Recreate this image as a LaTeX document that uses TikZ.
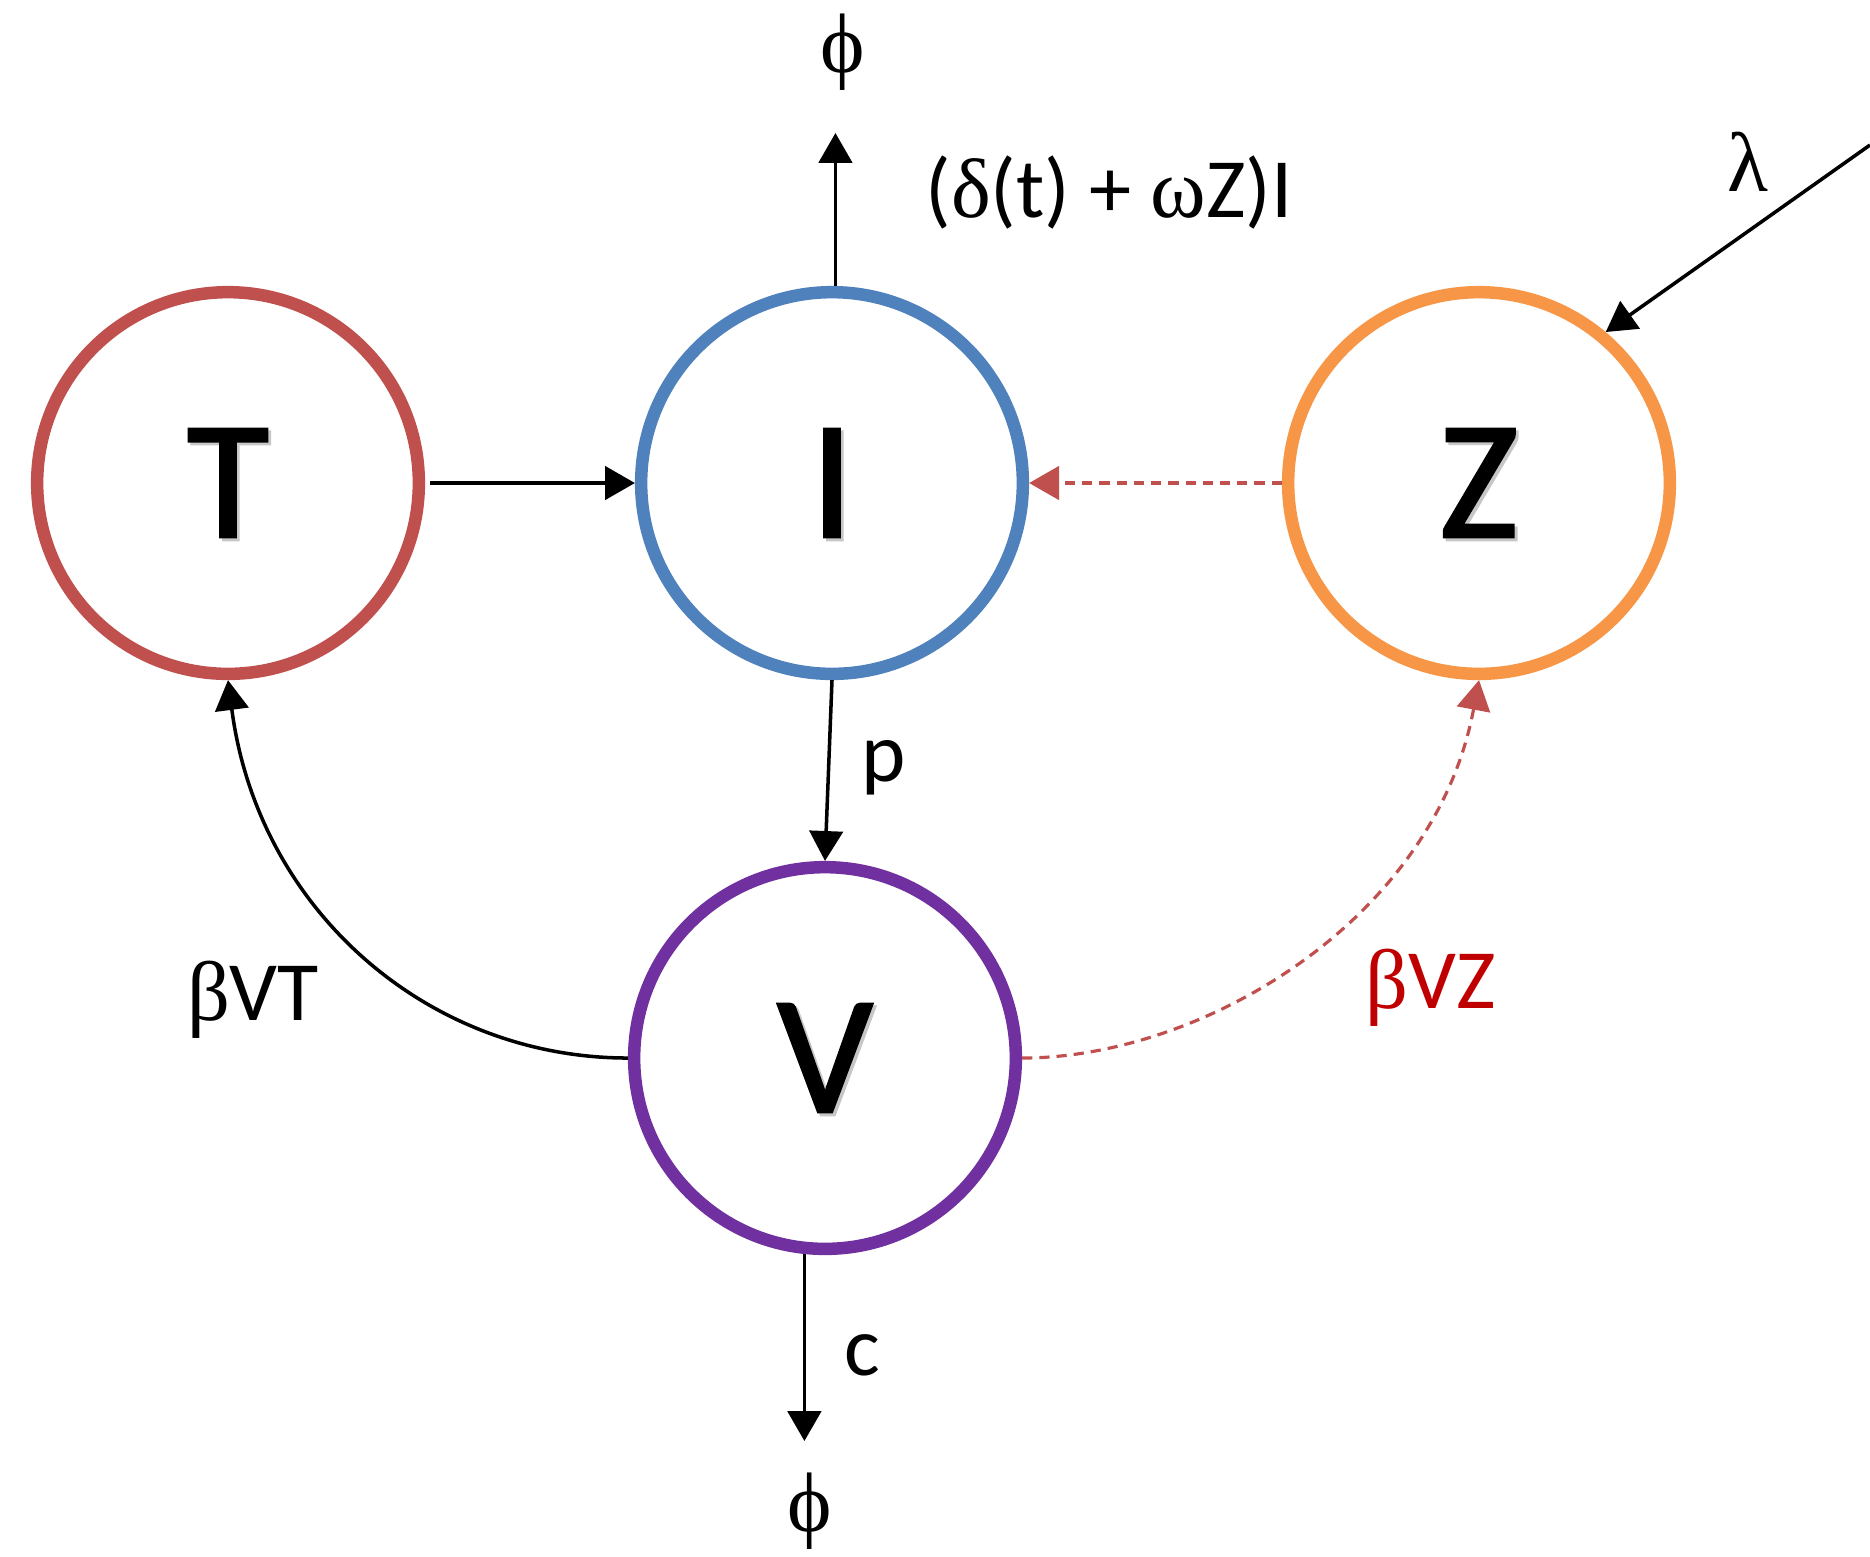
\documentclass[tikz,border=0pt]{standalone}
\usepackage{fontspec}
\setmainfont{Carlito}
\newfontfamily\grk{Liberation Serif}
\newfontfamily\statefont[FakeBold=1.5]{Carlito}
\usetikzlibrary{arrows.meta}
\definecolor{cT}{HTML}{C0504D}
\definecolor{cI}{HTML}{4F81BD}
\definecolor{cZ}{HTML}{F79646}
\definecolor{cV}{HTML}{7030A0}
\definecolor{cRed}{HTML}{C00000}
\newcommand\statelbl[1]{{\statefont\fontsize{48}{50}\selectfont\makebox[0pt][l]{\kern0.8pt\raisebox{-0.8pt}[0pt][0pt]{\color{black!22}#1}}#1}}
\newcommand\gk[1]{{\grk #1}}
\tikzset{
  state/.style={circle, draw, line width=3.55pt, minimum size=3.815cm, inner sep=0pt, fill=white},
  lbl/.style={inner sep=0pt, font=\fontsize{24}{28}\selectfont},
  arr/.style={-{Triangle[length=8.5pt,width=9.5pt]}, line width=1pt, black},
  dsh/.style={-{Triangle[length=8.5pt,width=9.5pt]}, line width=0.9pt, cT, dash pattern=on 2.9pt off 2pt},
}
\begin{document}
\begin{tikzpicture}[x=0.01cm,y=-0.01cm]
\useasboundingbox (0,0) rectangle (1870,1556);
% states
\node[state, draw=cT] (T) at (228,483) {\statelbl{T}};
\node[state, draw=cI] (I) at (832,483) {\statelbl{I}};
\node[state, draw=cZ] (Z) at (1479,483) {\statelbl{Z}};
\node[state, draw=cV] (V) at (825,1058) {\statelbl{V}};
% labels
\node[lbl] (phit) at (843,52) {\gk{ϕ}};
\node[lbl] (phib) at (810,1511) {\gk{ϕ}};
\node[lbl] (lam) at (1748,162) {\gk{λ}};
\node[lbl] (rate) at (1109,192) {(\gk{δ}(t) + \gk{ω}Z)I};
\node[lbl] (lp) at (884,768) {p};
\node[lbl] (lc) at (862,1355) {c};
\node[lbl] (bvt) at (253,1000) {\gk{β}VT};
\node[lbl, text=cRed] (bvz) at (1431,988) {\gk{β}VZ};
\coordinate (lamsrc) at (1870,145);
% connectors
\draw[arr, shorten <=0.05cm] (T.east) -- (I.west);
\draw[dsh] (Z.west) -- (I.east);
\draw[arr] (I.south) -- (V.north);
\draw[arr, shorten >=0.42cm] (I.89) -- (I.89 |- phit.south);
\draw[arr, shorten >=0.31cm] (V.264.5) -- (V.264.5 |- phib.north);
\draw[arr] (lamsrc) -- (Z.50.7);
\draw[arr] (V.west) .. controls +(-200,0) and +(30,230) .. (T.south);
\draw[dsh] (V.east) .. controls +(180,0) and +(-45,240) .. (Z.south);
\end{tikzpicture}
\end{document}
